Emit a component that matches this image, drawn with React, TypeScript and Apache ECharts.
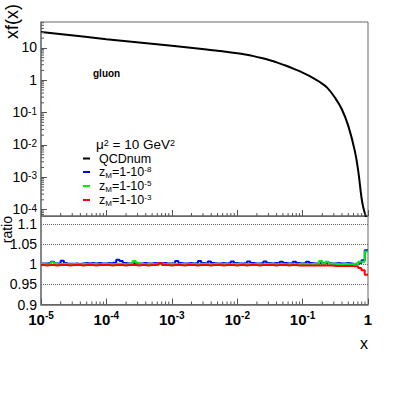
import React, { useEffect, useRef } from "react";
import * as echarts from "echarts";

// ---------- data ----------
// top panel: gluon xf(x) at mu^2 = 10 GeV^2 (QCDnum)
const curveX = [
  1e-5, 1e-4, 1e-3, 3.16e-3, 5.62e-3, 1e-2, 1.33e-2, 1.78e-2, 2.37e-2, 3.16e-2,
  4.22e-2, 5.62e-2, 7.5e-2, 0.1, 0.133, 0.178, 0.237, 0.316, 0.398, 0.501,
  0.631, 0.708, 0.794, 0.851, 0.955,
];
const curveY = [
  31, 18.6, 11.6, 9.12, 7.94, 6.84, 6.24, 5.56, 4.84, 4.12,
  3.43, 2.79, 2.21, 1.72, 1.29, 0.91, 0.59, 0.28, 0.126, 0.038,
  0.0063, 0.0016, 2.4e-4, 1.12e-4, 5e-5,
];

// ratio panel: 100 log-uniform bins between 1e-5 and 1
const ratioBlue = [
  1.002, 1.002, 1.003, 1.006, 1.002, 1.002, 1.009, 1.003, 1.001, 1.001,
  1.002, 1.001, 1.002, 1.003, 1.002, 1.003, 1.002, 1.003, 1.002, 1.002,
  1.003, 1.002, 1.004, 1.011, 1.008, 1.003, 1.002, 1.002, 1.003, 1.002,
  1.002, 1.003, 1.002, 1.002, 1.003, 1.002, 1.002, 1.003, 1.002, 1.002,
  1.003, 1.008, 1.003, 1.002, 1.002, 1.003, 1.002, 1.003, 1.008, 1.003,
  1.002, 1.007, 1.003, 1.002, 1.002, 1.003, 1.002, 1.003, 1.007, 1.003,
  1.002, 1.002, 1.003, 1.007, 1.003, 1.002, 1.002, 1.003, 1.007, 1.003,
  1.002, 1.003, 1.002, 1.006, 1.003, 1.002, 1.003, 1.006, 1.003, 1.002,
  1.003, 1.006, 1.003, 1.002, 1.002, 1.003, 1.002, 1.003, 1.002, 1.002,
  1.003, 1.002, 1.002, 1.003, 1.002, 1.001, 1.002, 1.003, 1.010, 1.035,
];
const ratioGreen = [
  1.001, 1.000, 1.001, 1.005, 1.001, 1.000, 1.001, 1.001, 1.000, 1.001,
  1.001, 1.000, 1.001, 1.001, 1.000, 1.001, 1.001, 1.000, 1.001, 1.001,
  1.001, 1.000, 1.001, 1.001, 1.001, 1.000, 1.001, 1.001, 1.008, 1.004,
  1.001, 1.000, 1.001, 1.001, 1.000, 1.001, 1.001, 1.000, 1.001, 1.001,
  1.001, 1.000, 1.001, 1.001, 1.000, 1.001, 1.001, 1.000, 1.001, 1.001,
  1.001, 1.000, 1.001, 1.001, 1.000, 1.001, 1.001, 1.000, 1.001, 1.001,
  1.001, 1.000, 1.001, 1.001, 1.000, 1.001, 1.001, 1.000, 1.001, 1.001,
  1.001, 1.000, 1.001, 1.001, 1.000, 1.001, 1.001, 1.000, 1.001, 1.001,
  1.001, 1.000, 1.001, 1.001, 1.000, 1.008, 1.001, 1.006, 1.001, 1.001,
  1.001, 1.000, 1.001, 1.001, 1.000, 1.001, 1.001, 1.006, 1.006, 1.032,
];
const ratioRed = [
  0.998, 0.997, 0.998, 0.998, 0.997, 0.998, 0.998, 0.998, 0.997, 0.998,
  0.998, 0.998, 0.997, 0.998, 0.998, 0.998, 0.997, 0.998, 0.998, 0.998,
  0.998, 0.997, 0.998, 0.998, 0.998, 0.997, 0.998, 0.998, 0.998, 0.997,
  0.998, 0.998, 0.997, 0.998, 0.998, 0.999, 1.003, 0.998, 0.998, 0.997,
  0.998, 0.998, 0.998, 0.997, 0.998, 0.998, 0.998, 0.997, 0.998, 0.998,
  0.998, 0.997, 0.998, 0.998, 0.998, 0.997, 0.998, 0.998, 0.998, 0.997,
  0.998, 0.998, 0.997, 0.998, 0.998, 0.998, 0.997, 0.998, 0.998, 0.998,
  0.998, 0.997, 0.998, 0.998, 0.998, 0.997, 0.998, 0.998, 0.997, 0.997,
  0.997, 0.997, 0.997, 0.997, 0.997, 0.997, 0.997, 0.997, 0.997, 0.996,
  0.996, 0.996, 0.996, 0.996, 0.996, 0.995, 0.995, 0.991, 0.985, 0.974,
];

const seriesNames = ["QCDnum", "zM8", "zM5", "zM3"];
const legendLabels: Record<string, string> = {
  QCDnum: "{t|QCDnum}",
  zM8: "{t|z}{sub|M}{t|=1-10}{sup|-8}",
  zM5: "{t|z}{sub|M}{t|=1-10}{sup|-5}",
  zM3: "{t|z}{sub|M}{t|=1-10}{sup|-3}",
};

const X_MIN = 1e-5;
const X_MAX = 1;
const Y_MIN = Math.pow(10, -4.2);
const Y_MAX = Math.pow(10, 1.8);
const R_MIN = 0.9;
const R_MAX = 1.12;
const minorMultipliers = [2, 3, 4, 5, 6, 7, 8, 9];

const FONT = "'Liberation Sans', Arial, Helvetica, sans-serif";

function binLowEdges(n: number): number[] {
  const out: number[] = [];
  for (let i = 0; i < n; i++) out.push(Math.pow(10, -5 + (5 * i) / n));
  return out;
}

function histData(vals: number[]): number[][] {
  const edges = binLowEdges(vals.length);
  const d = vals.map((v, i) => [edges[i], v]);
  d.push([X_MAX, vals[vals.length - 1]]);
  return d;
}

function minorTicks(kFrom: number, kTo: number, lo: number, hi: number): number[] {
  const out: number[] = [];
  for (let k = kFrom; k <= kTo; k++) {
    for (const m of minorMultipliers) {
      const v = m * Math.pow(10, k);
      if (v > lo && v < hi) out.push(v);
    }
  }
  return out;
}

function powLabel(v: number): string {
  const e = Math.round(Math.log10(v));
  if (e === 0) return "{b|1}";
  if (e === 1) return "{b|10}";
  return `{b|10}{s|${e}}`;
}

const TICK = "#555";

export default function App() {
  const ref = useRef<HTMLDivElement>(null);
  useEffect(() => {
    if (!ref.current) return;
    const chart = echarts.init(ref.current, undefined, { renderer: "svg" });

    const yMinor = minorTicks(-5, 1, Y_MIN, Y_MAX);
    const xMinor = minorTicks(-5, -1, X_MIN, X_MAX);

    const tickSeries = (
      name: string,
      xi: number,
      yi: number,
      data: number[][],
      dir: "x" | "y",
      len: number
    ) => ({
      type: "custom",
      name,
      xAxisIndex: xi,
      yAxisIndex: yi,
      silent: true,
      clip: false,
      data,
      renderItem: (_p: any, api: any) => {
        const pt = api.coord([api.value(0), api.value(1)]);
        const shape =
          dir === "y"
            ? { x1: pt[0], y1: pt[1], x2: pt[0] + len, y2: pt[1] }
            : { x1: pt[0], y1: pt[1], x2: pt[0], y2: pt[1] - len };
        return { type: "line", shape, style: { stroke: TICK, lineWidth: 1 } };
      },
      z: 5,
    });

    const option: any = {
      animation: false,
      backgroundColor: "#fff",
      textStyle: { fontFamily: FONT },
      grid: [
        { left: 41, top: 22, width: 327, height: 194, show: true, borderColor: "#666", borderWidth: 1, backgroundColor: "transparent" },
        { left: 41, top: 216, width: 327, height: 88.5, show: true, borderColor: "#666", borderWidth: 1, backgroundColor: "transparent" },
      ],
      xAxis: [
        {
          type: "log", gridIndex: 0, min: X_MIN, max: X_MAX,
          axisLine: { show: true, lineStyle: { color: "#666", width: 1 } },
          axisTick: { show: true, inside: true, length: 6, lineStyle: { color: TICK } },
          axisLabel: { show: false },
          splitLine: { show: false },
        },
        {
          type: "log", gridIndex: 1, min: X_MIN, max: X_MAX,
          axisLine: { show: true, lineStyle: { color: "#666", width: 1.5 } },
          axisTick: { show: true, inside: true, length: 6, lineStyle: { color: TICK } },
          axisLabel: {
            margin: 6,
            formatter: (v: number) => powLabel(v),
            rich: {
              b: { fontFamily: FONT, fontSize: 15, fontWeight: "bold", color: "#000", lineHeight: 16, verticalAlign: "bottom" },
              s: { fontFamily: FONT, fontSize: 10, fontWeight: "bold", color: "#000", lineHeight: 8, verticalAlign: "top" },
            },
          },
          splitLine: { show: false },
        },
      ],
      yAxis: [
        {
          type: "log", gridIndex: 0, min: Y_MIN, max: Y_MAX,
          axisLine: { show: true, lineStyle: { color: "#777", width: 1.5 } },
          axisTick: { show: true, inside: true, length: 6, lineStyle: { color: TICK } },
          axisLabel: {
            margin: 4, showMinLabel: false, showMaxLabel: false,
            formatter: (v: number) => powLabel(v),
            rich: {
              b: { fontFamily: FONT, fontSize: 14, color: "#000", lineHeight: 13, verticalAlign: "bottom" },
              s: { fontFamily: FONT, fontSize: 10, color: "#000", lineHeight: 6, verticalAlign: "top" },
            },
          },
          splitLine: { show: false },
        },
        {
          type: "value", gridIndex: 1, min: R_MIN, max: R_MAX, interval: 0.05,
          axisLine: { show: true, lineStyle: { color: "#777", width: 1.5 } },
          axisTick: { show: false },
          axisLabel: { margin: 4, showMaxLabel: false, fontSize: 14, lineHeight: 13, color: "#000", fontFamily: FONT },
          splitLine: { show: true, lineStyle: { type: "dotted", color: "#666", width: 1 } },
        },
      ],
      legend: {
        data: seriesNames,
        orient: "vertical",
        left: 83,
        top: 152,
        padding: 0,
        itemGap: 0,
        itemWidth: 7,
        itemHeight: 2,
        icon: "rect",
        selectedMode: false,
        formatter: (name: string) => legendLabels[name],
        textStyle: {
          color: "#000",
          padding: [0, 0, 0, 4],
          rich: {
            t: { fontFamily: FONT, fontSize: 12.5, color: "#000", lineHeight: 14, verticalAlign: "middle" },
            sub: { fontFamily: FONT, fontSize: 8, color: "#000", lineHeight: 4, verticalAlign: "bottom" },
            sup: { fontFamily: FONT, fontSize: 8, color: "#000", lineHeight: 6, verticalAlign: "top" },
          },
        },
      },
      graphic: [
        {
          type: "text", x: 12, y: 4, rotation: Math.PI / 2,
          style: { text: "xf(x)", fontFamily: FONT, fontSize: 18, fill: "#000", align: "right", verticalAlign: "middle" },
        },
        {
          type: "text", x: 7, y: 216, rotation: Math.PI / 2,
          style: { text: "ratio", fontFamily: FONT, fontSize: 14, fill: "#000", align: "right", verticalAlign: "middle" },
        },
        {
          type: "text", x: 368, y: 343,
          style: { text: "x", fontFamily: FONT, fontSize: 16, fill: "#000", align: "right", verticalAlign: "middle" },
        },
        {
          type: "text", x: 93, y: 73,
          style: { text: "gluon", fontFamily: FONT, fontSize: 10, fontWeight: "bold", fill: "#000", align: "left", verticalAlign: "middle" },
        },
        {
          type: "text", x: 96, y: 144,
          style: {
            text: "{t|μ}{s|2}{t| = 10 GeV}{s|2}",
            align: "left", verticalAlign: "middle",
            rich: {
              t: { fontFamily: FONT, fontSize: 13.5, fill: "#000", lineHeight: 12, verticalAlign: "middle" },
              s: { fontFamily: FONT, fontSize: 9, fill: "#000", lineHeight: 4, verticalAlign: "top" },
            },
          },
        },
      ],
      series: [
        {
          type: "line", name: "QCDnum", xAxisIndex: 0, yAxisIndex: 0,
          data: curveX.map((x, i) => [x, curveY[i]]),
          smooth: 0.4, showSymbol: false, symbol: "none",
          lineStyle: { color: "#000", width: 2 }, itemStyle: { color: "#000" },
          z: 3,
        },
        {
          type: "line", name: "zM8", xAxisIndex: 1, yAxisIndex: 1,
          data: histData(ratioBlue), step: "end", showSymbol: false, symbol: "none",
          lineStyle: { color: "#0000ff", width: 2 }, itemStyle: { color: "#0000ff" },
          z: 3,
        },
        {
          type: "line", name: "zM5", xAxisIndex: 1, yAxisIndex: 1,
          data: histData(ratioGreen), step: "end", showSymbol: false, symbol: "none",
          lineStyle: { color: "#00ee00", width: 2 }, itemStyle: { color: "#00ee00" },
          z: 3,
        },
        {
          type: "line", name: "zM3", xAxisIndex: 1, yAxisIndex: 1,
          data: histData(ratioRed), step: "end", showSymbol: false, symbol: "none",
          lineStyle: { color: "#ff0000", width: 2 }, itemStyle: { color: "#ff0000" },
          z: 3,
        },
        tickSeries("yMinorTop", 0, 0, yMinor.map((v) => [X_MIN, v]), "y", 3),
        tickSeries("xMinorTop", 0, 0, xMinor.map((v) => [v, Y_MIN]), "x", 3),
        tickSeries("xMinorBottom", 1, 1, xMinor.map((v) => [v, R_MIN]), "x", 3),
      ],
    };

    chart.setOption(option);
    return () => chart.dispose();
  }, []);

  return (
    <div
      ref={ref}
      style={{ position: "absolute", left: 0, top: 0, width: 409, height: 395 }}
    />
  );
}
